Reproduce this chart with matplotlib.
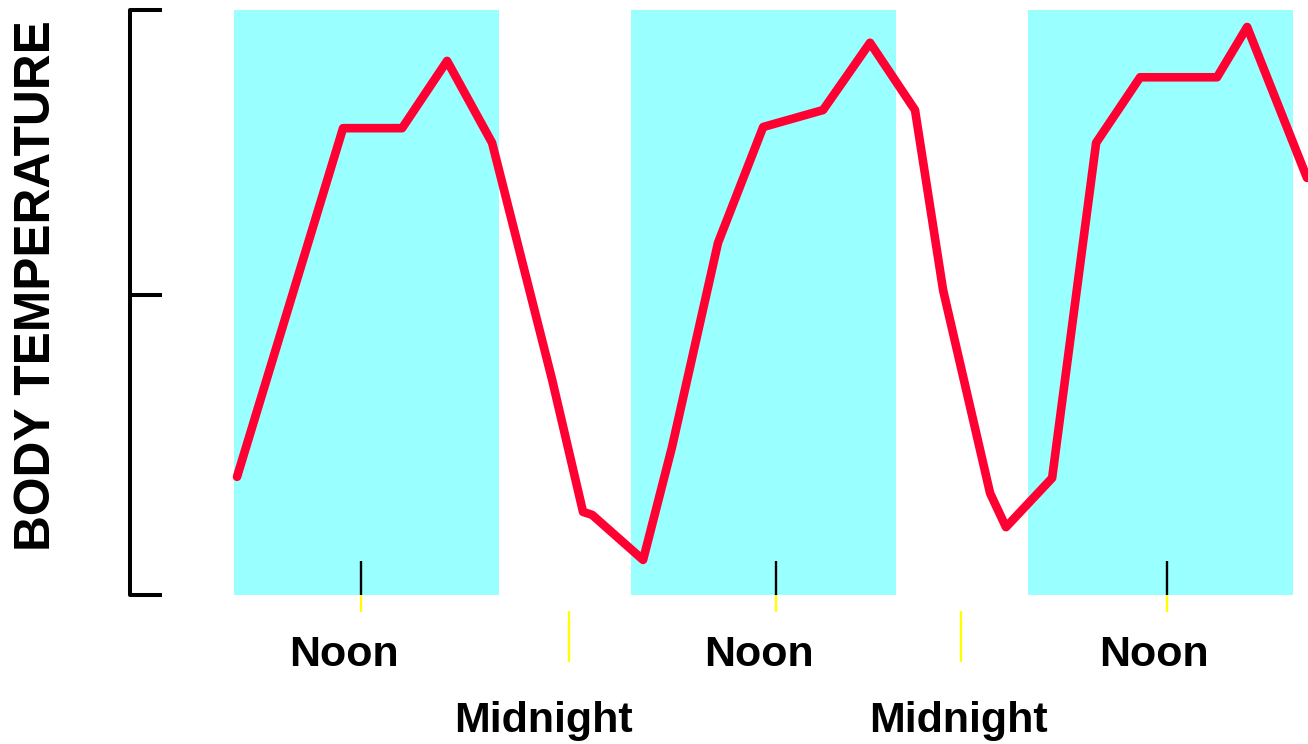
import matplotlib
matplotlib.use("Agg")
import matplotlib.pyplot as plt
from matplotlib import font_manager

# ---- data (hours from start, arbitrary temperature units) ----
hours = [6.18, 12.59, 16.16, 18.88, 21.60, 25.23, 27.10, 27.65, 30.73, 32.48,
         35.26, 37.99, 41.61, 44.45, 47.17, 48.87, 51.71, 52.67, 55.46, 58.12,
         60.78, 65.43, 67.25, 70.87]
temperature = [20.2, 79.8, 79.8, 91.3, 77.3, 36.8, 14.2, 13.7, 6.0, 25.3,
               60.2, 80.0, 82.9, 94.4, 82.9, 52.1, 17.4, 11.6, 20.0, 77.3,
               88.5, 88.5, 97.1, 71.3]
day_starts = [6, 30, 54]
day_ends = [22, 46, 70]
noon_ticks = [13.68, 38.77, 62.41]
midnight_ticks = [26.25, 49.95]
noon_label_x = [12.65, 37.74, 61.62]
midnight_label_x = [24.68, 49.77]
y_ticks = [0, 51.3, 100]
noon_label = "Noon"
midnight_label = "Midnight"
y_label = "BODY TEMPERATURE"

def pick_font(names):
    for n in names:
        try:
            font_manager.findfont(font_manager.FontProperties(family=n), fallback_to_default=False)
            return n
        except Exception:
            continue
    return "DejaVu Sans"

regular = pick_font(["Liberation Sans", "Arial"])

W, H = 1308, 744
fig = plt.figure(figsize=(W / 100, H / 100), dpi=100)
ax = fig.add_axes([130 / W, (H - 595) / H, (W - 130) / W, 585 / H])
ax.set_xlim(-0.29, 70.93)
ax.set_ylim(0, 100)

for s, e in zip(day_starts, day_ends):
    ax.axvspan(s, e, color="#99FFFF", lw=0, zorder=0)

ax.plot(hours, temperature, color="#FF0033", lw=6.2, solid_joinstyle="round",
        solid_capstyle="round", zorder=3, clip_on=False)

# noon ticks: black inside, yellow outside
ax.vlines(noon_ticks, 0, 5.81, colors="black", lw=1.7, zorder=2)
ax.vlines(noon_ticks, -2.9, 0, colors="#FFFF00", lw=1.7, zorder=2, clip_on=False)
ax.vlines(midnight_ticks, -11.45, -2.74, colors="#FFFF00", lw=1.7, zorder=2, clip_on=False)

for x in noon_label_x:
    ax.text(x, -12.14, noon_label, ha="center", va="baseline", fontsize=31,
            fontweight="bold", family=regular)
for x in midnight_label_x:
    ax.text(x, -23.4, midnight_label, ha="center", va="baseline", fontsize=31,
            fontweight="bold", family=regular)

for side in ["top", "right", "bottom"]:
    ax.spines[side].set_visible(False)
ax.spines["left"].set_linewidth(2.9)
ax.spines["left"].set_capstyle("round")
ax.set_xticks([])
ax.set_yticks(y_ticks)
ax.set_yticklabels([])
ax.tick_params(axis="y", direction="in", length=23, width=2.9, color="black")
ax.patch.set_alpha(0)

fig.text(37 / W, 1 - 286 / H, y_label, rotation=90, ha="center", va="center",
         fontsize=35.7, fontweight="bold", family=regular)

fig.savefig("out.png", dpi=100)
